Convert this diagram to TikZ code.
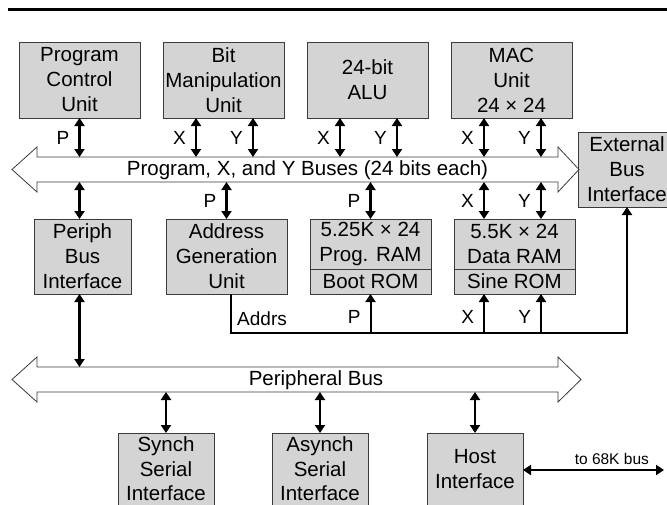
\documentclass[tikz,border=0pt]{standalone}
\usepackage{fontspec}
\setmainfont{Liberation Sans}
\usetikzlibrary{positioning,arrows.meta,calc}
\definecolor{UnitGray}{HTML}{D4D4D4}
\definecolor{EdgeGray}{HTML}{3A3A3A}

\begin{document}
\begin{tikzpicture}[
  x=1pt, y=-1pt,
  unit/.style    = {draw=EdgeGray, fill=UnitGray, line width=0.9pt, inner sep=0pt,
                    outer sep=0pt, minimum width=121pt, minimum height=76pt,
                    align=center, font=\fontsize{20.5}{25}\selectfont},
  periph/.style  = {unit, minimum width=96pt, minimum height=72pt,
                    font=\fontsize{20.5}{24.5}\selectfont},
  shaft/.style   = {minimum height=25pt, inner sep=0pt, outer sep=0pt},
  busline/.style = {draw=EdgeGray, fill=white, line width=0.8pt},
  bustext/.style = {font=\fontsize{20.5}{25}\selectfont, inner sep=0pt},
  bidir/.style   = {{Triangle[length=8pt,width=10pt]}-{Triangle[length=8pt,width=10pt]},
                    line width=2.5pt},
  uparr/.style   = {-{Triangle[length=8pt,width=10pt]}, line width=2pt},
  tag/.style     = {font=\fontsize{19}{22}\selectfont, inner sep=1pt},
  note/.style    = {font=\fontsize{15.5}{18}\selectfont, inner sep=1pt}
]
  \useasboundingbox (0,0) rectangle (667,504);
  \draw[line width=3pt] (8,9.5) -- (670,9.5);

  % core units on top of the buses
  \node[unit] (pcu) at (79.5,80) {Program\\Control\\Unit};
  \node[unit, right=23pt of pcu] (bmu) {Bit\\Manipulation\\Unit};
  \node[unit, right=23pt of bmu] (alu) {24-bit\\ALU};
  \node[unit, right=23pt of alu] (mac) {MAC\\Unit\\24 × 24};
  \node[unit, minimum width=98pt, minimum height=75pt] (ebi) at (627,169.5)
       {External\\Bus\\Interface};

  % program, X and Y buses
  \node[shaft, minimum width=521pt] (pxybus) at (297.5,169.5) {};
  \draw[busline] (pxybus.north west) -- ++(0,-10) -- ++(-25,22.5) -- ++(25,22.5)
       -- ++(0,-10) -- (pxybus.south east) -- ++(0,10) -- ++(21,-22.5)
       -- ++(-21,-22.5) -- ++(0,10) -- cycle;
  \node[bustext] (pxylabel) at (307.5,170) {Program, X, and Y Buses (24 bits each)};

  % units below the buses
  \node[unit, minimum width=97pt, minimum height=75pt] (pbi) at (82.5,256.5)
       {Periph\\Bus\\Interface};
  \node[unit, minimum height=75pt] (agu) at (226.5,256.5) {Address\\Generation\\Unit};
  \node[unit, minimum height=50pt] (pram) at (370.5,244) {5.25K × 24\\Prog. RAM};
  \node[unit, minimum height=25pt, below=0pt of pram] (boot) {Boot ROM};
  \node[unit, minimum height=50pt] (dram) at (514.5,244) {5.5K × 24\\Data RAM};
  \node[unit, minimum height=25pt, below=0pt of dram] (srom) {Sine ROM};

  \draw[bidir] (pcu.south) -- (pcu.south |- pxybus.north)
       node[midway, left=8pt, tag] (pcup) {P};
  \draw[bidir] ($(bmu.south)+(-27.5,0)$) -- ($(bmu.south |- pxybus.north)+(-27.5,0)$)
       node[midway, left=8pt, tag] (bmux) {X};
  \draw[bidir] ($(bmu.south)+(29.5,0)$) -- ($(bmu.south |- pxybus.north)+(29.5,0)$)
       node[midway, left=8pt, tag] (bmuy) {Y};
  \draw[bidir] ($(alu.south)+(-27.5,0)$) -- ($(alu.south |- pxybus.north)+(-27.5,0)$)
       node[midway, left=8pt, tag] (alux) {X};
  \draw[bidir] ($(alu.south)+(29.5,0)$) -- ($(alu.south |- pxybus.north)+(29.5,0)$)
       node[midway, left=8pt, tag] (aluy) {Y};
  \draw[bidir] ($(mac.south)+(-27.5,0)$) -- ($(mac.south |- pxybus.north)+(-27.5,0)$)
       node[midway, left=8pt, tag] (macx) {X};
  \draw[bidir] ($(mac.south)+(29.5,0)$) -- ($(mac.south |- pxybus.north)+(29.5,0)$)
       node[midway, left=8pt, tag] (macy) {Y};

  \draw[bidir] (pxybus.south -| pcu.south) -- (pbi.north -| pcu.south);
  \draw[bidir] (pxybus.south -| agu.north) -- (agu.north)
       node[midway, left=8pt, tag] (agup) {P};
  \draw[bidir] (pxybus.south -| pram.north) -- (pram.north)
       node[midway, left=8pt, tag] (pramp) {P};
  \draw[bidir] ($(pxybus.south -| mac.south)+(-27.5,0)$) -- ($(dram.north -| mac.south)+(-27.5,0)$)
       node[midway, left=8pt, tag] (dramx) {X};
  \draw[bidir] ($(pxybus.south -| mac.south)+(29.5,0)$) -- ($(dram.north -| mac.south)+(29.5,0)$)
       node[midway, left=8pt, tag] (dramy) {Y};

  % address lines
  \coordinate (acorner) at (231,332.5);
  \draw[uparr] (agu.south -| acorner) -- (acorner) -| (ebi.south);
  \node[tag, anchor=west] (addrs) at (236,319) {Addrs};
  \draw[uparr] (acorner -| boot.south) -- (boot.south)
       node[pos=0.4, left=8pt, tag] (bootp) {P};
  \draw[uparr] ($(acorner -| mac.south)+(-27.5,0)$) -- ($(srom.south -| mac.south)+(-27.5,0)$)
       node[pos=0.4, left=8pt, tag] (sromx) {X};
  \draw[uparr] ($(acorner -| mac.south)+(29.5,0)$) -- ($(srom.south -| mac.south)+(29.5,0)$)
       node[pos=0.4, left=8pt, tag] (sromy) {Y};

  % peripheral bus
  \node[shaft, minimum width=521pt] (pbus) at (297.5,379.5) {};
  \draw[busline] (pbus.north west) -- ++(0,-10) -- ++(-25,22.5) -- ++(25,22.5)
       -- ++(0,-10) -- (pbus.south east) -- ++(0,10) -- ++(23,-22.5)
       -- ++(-23,-22.5) -- ++(0,10) -- cycle;
  \node[bustext] (pbuslabel) at (316,380) {Peripheral Bus};

  \draw[bidir] (pbi.south -| pcu.south) -- (pbus.north -| pcu.south);

  % peripherals
  \node[periph] (ssi) at (166,469) {Synch\\Serial\\Interface};
  \node[periph, right=58pt of ssi] (asi) {Asynch\\Serial\\Interface};
  \node[periph, right=59pt of asi] (host) {Host\\Interface};

  \draw[bidir] (pbus.south -| ssi.north) -- (ssi.north);
  \draw[bidir] (pbus.south -| asi.north) -- (asi.north);
  \draw[bidir] (pbus.south -| host.north) -- (host.north);

  \coordinate (m68k) at (664,470);
  \draw[bidir] (host.east |- m68k) -- (m68k)
       node[pos=0.63, above=3pt, note] (to68k) {to 68K bus};
\end{tikzpicture}
\end{document}
